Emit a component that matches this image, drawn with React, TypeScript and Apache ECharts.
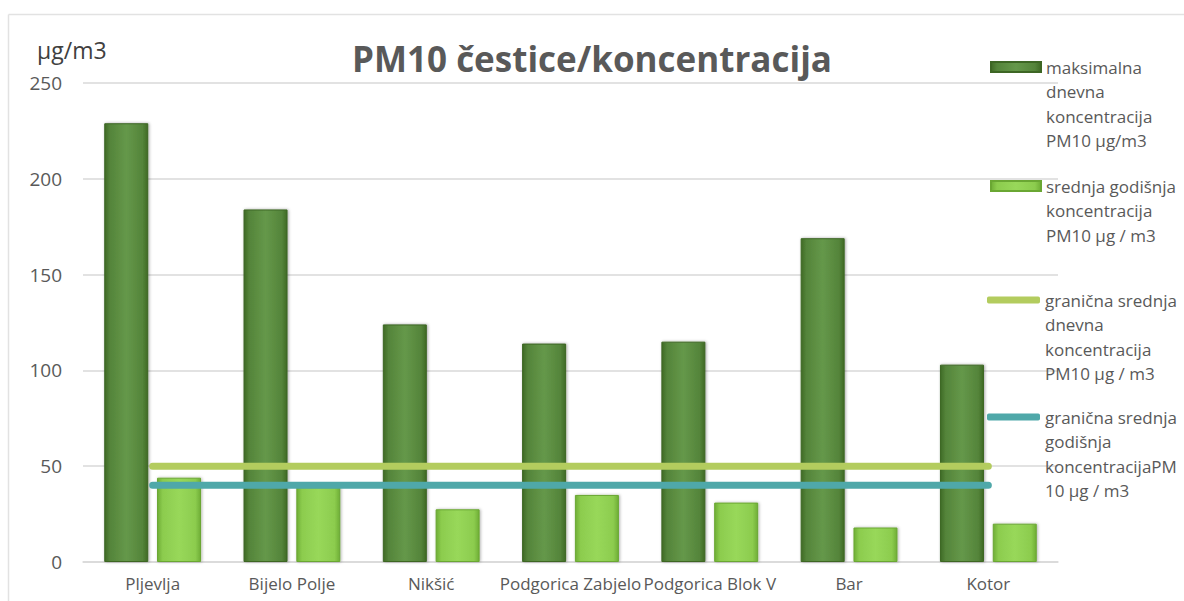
import React, { useEffect, useRef } from "react";
import * as echarts from "echarts";

const categories = [
  "Pljevlja",
  "Bijelo Polje",
  "Nikšić",
  "Podgorica Zabjelo",
  "Podgorica Blok V",
  "Bar",
  "Kotor",
];
const maxDaily = [229, 184, 124, 114, 115, 169, 103];
const meanAnnual = [44, 39, 27.5, 35, 31, 18, 20];
const limitDaily = [50, 50, 50, 50, 50, 50, 50];
const limitAnnual = [40, 40, 40, 40, 40, 40, 40];
const seriesNames = [
  "maksimalna\ndnevna\nkoncentracija\nPM10 μg/m3",
  "srednja godišnja\nkoncentracija\nPM10 μg / m3",
  "granična srednja\ndnevna\nkoncentracija\nPM10 μg / m3",
  "granična srednja\ngodišnja\nkoncentracijaPM\n10 μg / m3",
];
const yTicks = { min: 0, max: 250, interval: 50 };

const FONT = "'Open Sans', 'Noto Sans', sans-serif";
const TXT = "#595959";
const LH = 24.5;

const darkGrad = new echarts.graphic.LinearGradient(0, 0, 1, 0, [
  { offset: 0, color: "#3f6a25" },
  { offset: 0.12, color: "#54843a" },
  { offset: 0.5, color: "#65984a" },
  { offset: 0.88, color: "#54843a" },
  { offset: 1, color: "#3f6a25" },
]);
const lightGrad = new echarts.graphic.LinearGradient(0, 0, 1, 0, [
  { offset: 0, color: "#6fae36" },
  { offset: 0.12, color: "#8ccc4e" },
  { offset: 0.5, color: "#98d85a" },
  { offset: 0.88, color: "#8ccc4e" },
  { offset: 1, color: "#6fae36" },
]);

function legendFor(name: string, centerY: number, left: number, w: number, h: number, icon: string) {
  const n = name.split("\n").length;
  const H = (2 * n - 1) * LH;
  return {
    show: true,
    data: [name],
    orient: "vertical",
    left,
    top: centerY - H / 2,
    padding: 0,
    itemWidth: w,
    itemHeight: h,
    icon,
    selectedMode: false,
    formatter: (nm: string) => "\n".repeat(n - 1) + nm,
    textStyle: {
      fontFamily: FONT,
      fontSize: 17,
      color: TXT,
      lineHeight: LH,
    },
  };
}

export default function App() {
  const ref = useRef<HTMLDivElement>(null);
  useEffect(() => {
    document.body.style.margin = "0";
    const chart = echarts.init(ref.current!, null, { renderer: "svg" });
    chart.setOption({
      animation: false,
      backgroundColor: "#ffffff",
      title: {
        text: "PM10 čestice/koncentracija",
        left: "center",
        top: 36,
        textStyle: { fontFamily: FONT, fontSize: 35, fontWeight: "bold", color: TXT },
      },
      graphic: [
        {
          type: "line",
          shape: { x1: 8.5, y1: 14.5, x2: 1184, y2: 14.5 },
          style: { stroke: "#e2e2e2", lineWidth: 1.5 },
        },
        {
          type: "line",
          shape: { x1: 8.5, y1: 14.5, x2: 8.5, y2: 601 },
          style: { stroke: "#e2e2e2", lineWidth: 1.5 },
        },
        {
          type: "text",
          left: 37,
          top: 38,
          style: { text: "μg/m3", fontFamily: FONT, fontSize: 23, fill: "#404040" },
        },
      ],
      legend: [
        legendFor(seriesNames[0], 67, 990, 50, 10, "rect"),
        legendFor(seriesNames[1], 186, 990, 50, 10, "rect"),
        legendFor(seriesNames[2], 300, 987, 53, 7, "roundRect"),
        legendFor(seriesNames[3], 417, 987, 53, 7, "roundRect"),
      ],
      grid: { left: 83, right: 126, top: 83, bottom: 39 },
      xAxis: {
        type: "category",
        data: categories,
        axisLine: { lineStyle: { color: "#d9d9d9", width: 1.5 } },
        axisTick: { show: false },
        axisLabel: { interval: 0, margin: 13, fontFamily: FONT, fontSize: 17, color: TXT },
      },
      yAxis: {
        type: "value",
        min: yTicks.min,
        max: yTicks.max,
        interval: yTicks.interval,
        axisLine: { show: false },
        axisTick: { show: false },
        splitLine: { lineStyle: { color: "#d9d9d9", width: 1.5 } },
        axisLabel: { margin: 21, fontFamily: FONT, fontSize: 19, color: TXT },
      },
      series: [
        {
          name: seriesNames[0],
          type: "bar",
          data: maxDaily,
          barWidth: 44,
          barGap: "20%",
          itemStyle: {
            color: darkGrad,
            borderColor: "#3d6624",
            borderWidth: 1,
            shadowColor: "rgba(0,0,0,0.35)",
            shadowBlur: 3,
            shadowOffsetX: 1,
          },
        },
        {
          name: seriesNames[1],
          type: "bar",
          data: meanAnnual,
          barWidth: 44,
          itemStyle: {
            color: lightGrad,
            borderColor: "#6aa733",
            borderWidth: 1,
            shadowColor: "rgba(0,0,0,0.3)",
            shadowBlur: 3,
            shadowOffsetX: 1,
          },
        },
        {
          name: seriesNames[2],
          type: "line",
          data: limitDaily,
          symbol: "none",
          z: 3,
          itemStyle: { color: "#b3cc5e" },
          lineStyle: { color: "#b3cc5e", width: 7, cap: "round" },
        },
        {
          name: seriesNames[3],
          type: "line",
          data: limitAnnual,
          symbol: "none",
          z: 3,
          itemStyle: { color: "#4fa8a9" },
          lineStyle: { color: "#4fa8a9", width: 7, cap: "round" },
        },
      ],
    });
    return () => chart.dispose();
  }, []);
  return <div ref={ref} style={{ width: 1184, height: 601 }} />;
}
